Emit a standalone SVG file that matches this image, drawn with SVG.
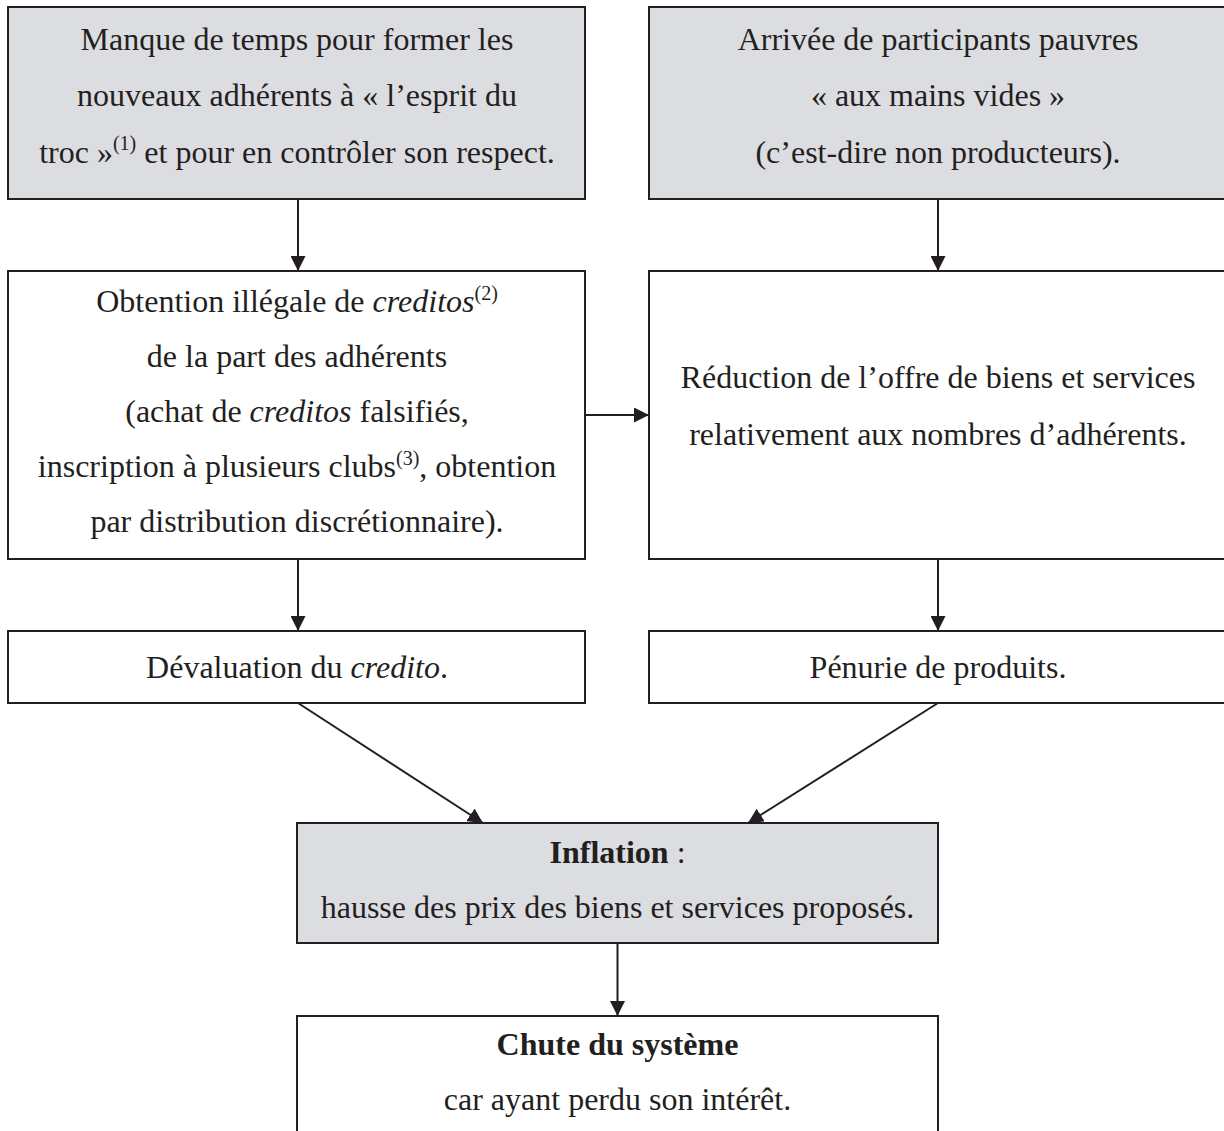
<svg xmlns="http://www.w3.org/2000/svg" width="1224" height="1131" viewBox="0 0 1224 1131">
<style>
  .box { stroke: #231f20; stroke-width: 2; }
  .grey { fill: #dcdde0; }
  .white { fill: #ffffff; }
  text { font-family: "Liberation Serif", "Times New Roman", serif; font-size: 32px; fill: #231f20; text-anchor: middle; }
  .sup { font-size: 20px; }
  .it { font-style: italic; }
  .b { font-weight: bold; }
  .conn { stroke: #231f20; stroke-width: 2; fill: none; marker-end: url(#arrow); }
</style>
<defs>
  <marker id="arrow" viewBox="0 0 15 15" refX="15" refY="7.5" markerUnits="userSpaceOnUse" markerWidth="15" markerHeight="15" orient="auto">
    <path d="M0,0 L15,7.5 L0,15 z" fill="#231f20"/>
  </marker>
</defs>
<rect width="1224" height="1131" fill="#ffffff"/>

<g id="node-manque">
  <rect class="box grey" x="8" y="7" width="577" height="192"/>
  <text x="297" y="50">Manque de temps pour former les</text>
  <text x="297" y="106">nouveaux adhérents à « l’esprit du</text>
  <text x="297" y="163">troc »<tspan class="sup" dy="-13">(1)</tspan><tspan dy="13"> et pour en contrôler son respect.</tspan></text>
</g>

<g id="node-arrivee">
  <rect class="box grey" x="649" y="7" width="590" height="192"/>
  <text x="938" y="50">Arrivée de participants pauvres</text>
  <text x="938" y="106">« aux mains vides »</text>
  <text x="938" y="163">(c’est-dire non producteurs).</text>
</g>

<g id="node-obtention">
  <rect class="box white" x="8" y="271" width="577" height="288"/>
  <text x="297" y="312">Obtention illégale de <tspan class="it">creditos</tspan><tspan class="sup" dy="-12">(2)</tspan></text>
  <text x="297" y="367">de la part des adhérents</text>
  <text x="297" y="422">(achat de <tspan class="it">creditos</tspan> falsifiés,</text>
  <text x="297" y="477">inscription à plusieurs clubs<tspan class="sup" dy="-12">(3)</tspan><tspan dy="12">, obtention</tspan></text>
  <text x="297" y="532">par distribution discrétionnaire).</text>
</g>

<g id="node-reduction">
  <rect class="box white" x="649" y="271" width="590" height="288"/>
  <text x="938" y="388">Réduction de l’offre de biens et services</text>
  <text x="938" y="445">relativement aux nombres d’adhérents.</text>
</g>

<g id="node-devaluation">
  <rect class="box white" x="8" y="631" width="577" height="72"/>
  <text x="297" y="678">Dévaluation du <tspan class="it">credito</tspan>.</text>
</g>

<g id="node-penurie">
  <rect class="box white" x="649" y="631" width="590" height="72"/>
  <text x="938" y="678">Pénurie de produits.</text>
</g>

<g id="node-inflation">
  <rect class="box grey" x="297" y="823" width="641" height="120"/>
  <text x="617.5" y="863"><tspan class="b">Inflation</tspan> :</text>
  <text x="617.5" y="918">hausse des prix des biens et services proposés.</text>
</g>

<g id="node-chute">
  <rect class="box white" x="297" y="1016" width="641" height="200"/>
  <text x="617.5" y="1055" class="b">Chute du système</text>
  <text x="617.5" y="1110">car ayant perdu son intérêt.</text>
</g>

<g id="connectors">
  <line class="conn" x1="298" y1="199" x2="298" y2="271"/>
  <line class="conn" x1="938" y1="199" x2="938" y2="271"/>
  <line class="conn" x1="585" y1="415" x2="649" y2="415"/>
  <line class="conn" x1="298" y1="559" x2="298" y2="631"/>
  <line class="conn" x1="938" y1="559" x2="938" y2="631"/>
  <line class="conn" x1="298" y1="703" x2="483" y2="823"/>
  <line class="conn" x1="938" y1="703" x2="748" y2="823"/>
  <line class="conn" x1="617.5" y1="943" x2="617.5" y2="1016"/>
</g>
</svg>
